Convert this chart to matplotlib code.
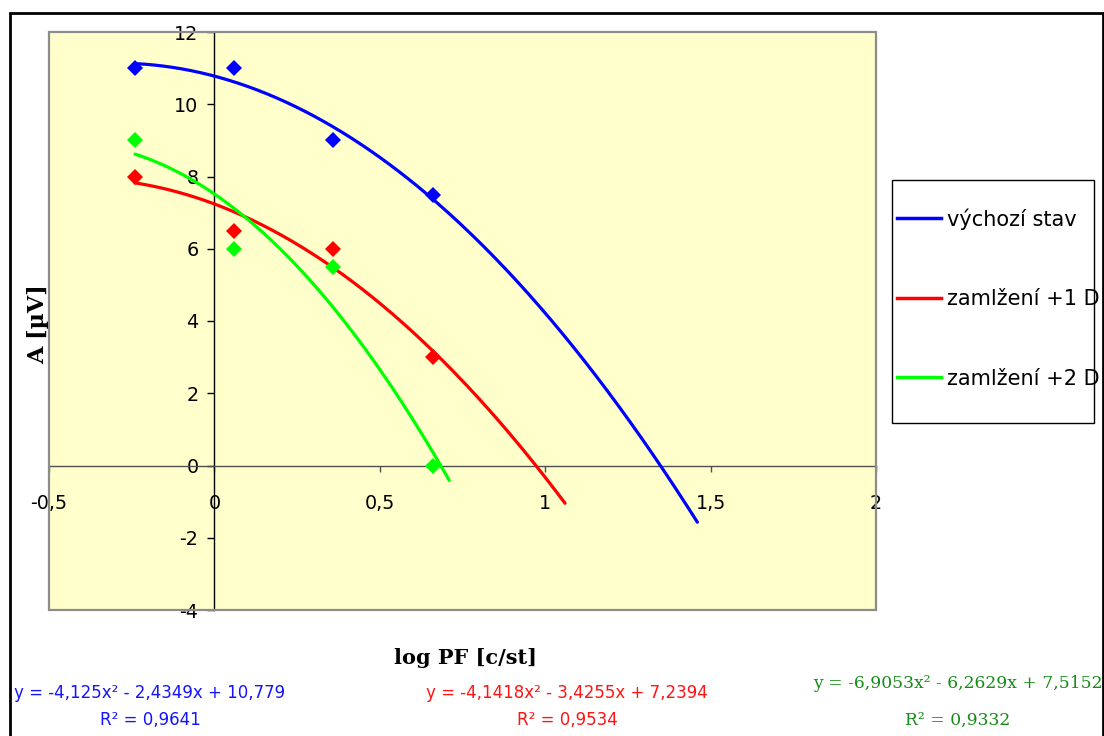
import numpy as np
import matplotlib
matplotlib.use("Agg")
import matplotlib.pyplot as plt
from matplotlib.patches import Rectangle
from matplotlib.lines import Line2D

# measured points (log spatial frequency vs. amplitude)
log_pf = [-0.24, 0.06, 0.36, 0.66]
amp_base = [11.0, 11.0, 9.0, 7.5]
amp_plus1 = [8.0, 6.5, 6.0, 3.0]
amp_plus2 = [9.0, 6.0, 5.5, 0.0]

series_names = ["výchozí stav", "zamlžení +1 D", "zamlžení +2 D"]
series_colors = ["#0000FF", "#FF0000", "#00FF00"]
eq_colors = ["#1414FF", "#FF1414", "#158A15"]

# second-order trendline coefficients (a, b, c) and R^2
coef_base = [-4.125, -2.4349, 10.779]
coef_plus1 = [-4.1418, -3.4255, 7.2394]
coef_plus2 = [-6.9053, -6.2629, 7.5152]
r2_values = [0.9641, 0.9534, 0.9332]
coef_text = [["-4,125", "2,4349", "10,779"],
             ["-4,1418", "3,4255", "7,2394"],
             ["-6,9053", "6,2629", "7,5152"]]
r2_text = ["0,9641", "0,9534", "0,9332"]
forecast_forward = [0.8, 0.4, 0.05]

x_ticks = [-0.5, 0, 0.5, 1, 1.5, 2]
x_tick_labels = ["-0,5", "0", "0,5", "1", "1,5", "2"]
y_ticks = [-4, -2, 0, 2, 4, 6, 8, 10, 12]
y_tick_labels = ["-4", "-2", "0", "2", "4", "6", "8", "10", "12"]

W, H = 1104, 736
fig = plt.figure(figsize=(W / 100, H / 100), dpi=100)
fig.patch.set_facecolor("white")

# chart-area frame
fig.patches.append(Rectangle((10 / W, -0.05), 1093 / W, (H - 13) / H + 0.05,
                             transform=fig.transFigure, fill=False,
                             edgecolor="black", linewidth=2.0))

ax = fig.add_axes([49 / W, (H - 610) / H, (876 - 49) / W, (610 - 32) / H])
ax.set_facecolor("#FFFFCC")
ax.set_xlim(-0.5, 2)
ax.set_ylim(-4, 12)

# axes crossing at zero
for s in ("top", "right"):
    ax.spines[s].set_visible(False)
ax.spines["left"].set_position(("data", 0))
ax.spines["bottom"].set_position(("data", 0))
ax.spines["left"].set_color("black")
ax.spines["bottom"].set_color("#505050")
ax.spines["left"].set_linewidth(1.0)
ax.spines["bottom"].set_linewidth(1.0)
ax.add_patch(Rectangle((0, 0), 1, 1, transform=ax.transAxes, fill=False,
                       edgecolor="#8C8C8C", linewidth=1.6, clip_on=False, zorder=5))

ax.set_xticks(x_ticks)
ax.set_xticklabels(x_tick_labels)
ax.set_yticks(y_ticks)
ax.set_yticklabels(y_tick_labels)
ax.tick_params(axis="x", direction="out", length=4.3, width=1.0, color="#505050",
               pad=16, labelsize=13.8)
ax.tick_params(axis="y", direction="out", length=5, width=1.0, color="black",
               pad=6.5, labelsize=13.8)
for lab in ax.get_xticklabels() + ax.get_yticklabels():
    lab.set_family("DejaVu Sans")

amps = [amp_base, amp_plus1, amp_plus2]
coefs = [coef_base, coef_plus1, coef_plus2]
handles = []
for amp, coef, col, fwd, name in zip(amps, coefs, series_colors, forecast_forward, series_names):
    xs = np.linspace(min(log_pf), max(log_pf) + fwd, 300)
    ys = np.polyval(coef, xs)
    ax.plot(xs, ys, color=col, linewidth=2.3, zorder=3, solid_capstyle="round")
    ax.plot(log_pf, amp, linestyle="none", marker="D", markersize=8.5,
            color=col, markeredgewidth=0, zorder=4)
    handles.append(Line2D([], [], color=col, linewidth=2.5))

# axis titles
fig.text(465 / W, 1 - 658 / H, "log PF [c/st]", family="DejaVu Serif",
         weight="bold", fontsize=15, ha="center", va="center")
fig.text(38 / W, 1 - 324 / H, "A [µV]", family="DejaVu Serif",
         weight="bold", fontsize=16, ha="center", va="center", rotation=90)

# legend box
fig.patches.append(Rectangle((892 / W, 1 - 423 / H), (1094 - 892) / W, (423 - 180) / H,
                             transform=fig.transFigure, fill=False,
                             edgecolor="black", linewidth=1.0))
fig.legend(handles, series_names, loc="upper left",
           bbox_to_anchor=(897 / W, 1 - 208 / H), frameon=False,
           prop={"family": "DejaVu Sans", "size": 15},
           handlelength=2.1, handletextpad=0.28, labelspacing=2.86,
           borderpad=0, borderaxespad=0)

# trendline equations
eq_pos = [(150, 693, 720, "DejaVu Sans", 12),
          (567, 693, 720, "DejaVu Sans", 12),
          (958, 683, 720, "DejaVu Serif", 12.3)]
for (cx, ey, ry, fam, fs), ct, rt, col in zip(eq_pos, coef_text, r2_text, eq_colors):
    eq = f"y = {ct[0]}x² - {ct[1]}x + {ct[2]}"
    fig.text(cx / W, 1 - ey / H, eq, color=col, family=fam, fontsize=fs,
             ha="center", va="center")
    fig.text(cx / W, 1 - ry / H, f"R² = {rt}", color=col, family=fam, fontsize=fs,
             ha="center", va="center")

fig.savefig("out.png", dpi=100)
